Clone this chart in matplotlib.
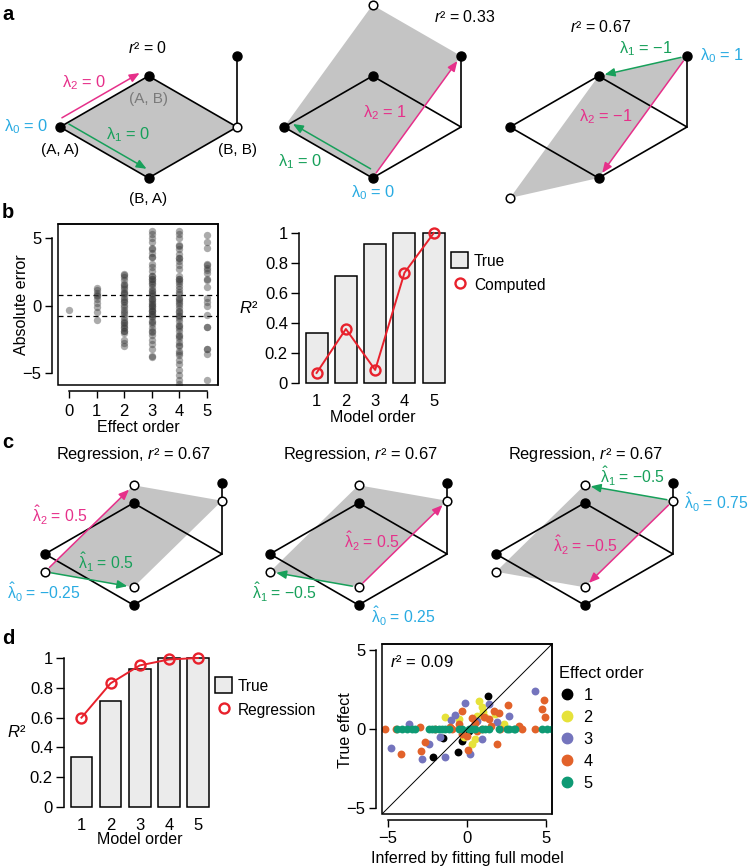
import matplotlib
matplotlib.use('Agg')
import matplotlib.pyplot as plt
from matplotlib.patches import Polygon, FancyArrowPatch, Patch, Rectangle
from matplotlib.lines import Line2D
import numpy as np

plt.rcParams['font.family'] = ['Liberation Sans', 'DejaVu Sans']
plt.rcParams['mathtext.fontset'] = 'custom'
plt.rcParams['mathtext.rm'] = 'Liberation Sans'
plt.rcParams['mathtext.it'] = 'Liberation Sans:italic'
plt.rcParams['mathtext.bf'] = 'Liberation Sans:bold'
plt.rcParams['font.size'] = 11.5
plt.rcParams['axes.linewidth'] = 1.1

# ---------------- data ----------------
# panels a / c: two-locus genotype lattice
geno_labels = ['(A, A)', '(A, B)', '(B, B)', '(B, A)']
geno_grid = [(0, 0), (0, 1), (1, 1), (1, 0)]
observed = [0, 0, 1, 0]
a_predicted = [[0, 0, 0, 0], [0, 1, 1, 0], [-1, 0, 1, 0]]
a_r2 = ['0', '0.33', '0.67']
a_lambda0 = ['0', '0', '1']
a_lambda1 = ['0', '0', '\u22121']
a_lambda2 = ['0', '1', '\u22121']
c_predicted = [[-0.25, 0.25, 0.75, 0.25], [-0.25, 0.25, 0.75, 0.25], [-0.25, 0.25, 0.75, 0.25]]
c_r2 = ['0.67', '0.67', '0.67']
c_lambda0 = ['\u22120.25', '0.25', '0.75']
c_lambda1 = ['0.5', '\u22120.5', '\u22120.5']
c_lambda2 = ['0.5', '0.5', '\u22120.5']
ref_geno = [0, 3, 2]
lambda1_target = [3, 0, 1]
lambda2_target = [1, 2, 3]

# panel b left: absolute error by effect order
effect_orders = [0, 1, 2, 3, 4, 5]
err_order0 = [-0.35]
err_order1 = [1.32, 1.12, 0.9, 0.7, 0.45, 0.15, -0.12, -0.47, -1.04, 0.8]
err_order2 = [2.36, 2.11, 1.87, 1.62, 1.39, 1.19, 1.0, 0.82, 0.62, 0.45, 0.27, 0.07,
              -0.12, -0.37, -0.62, -0.87, -1.04, -1.22, -1.42, -1.62, -1.87, -2.04,
              -2.54, -2.79, -3.03, 1.5, 0.9, 0.3, -0.5, -1.3, -1.7, -1.9, 2.3]
err_order3 = [5.55, 5.3, 5.0, 4.75, 4.25, 3.93, 3.6, 3.1, 2.86, 2.56, 2.19, 1.94, 1.69,
              1.37, 1.12, 0.87, 0.7, 0.52, 0.32, 0.12, -0.05, -0.22, -0.42, -0.62,
              -0.87, -1.12, -1.37, -1.67, -1.92, -2.16, -2.54, -2.86, -3.21, -3.78,
              0.2, -0.3, -0.6, 0.5, 1.6, 2.0, 3.6, 4.2, -3.8, 0.9, -0.4, 1.8, -1.2,
              -2.0, 0.0, 2.2, 1.1, -0.8]
err_order4 = [5.55, 5.3, 5.0, 4.5, 4.18, 3.86, 3.56, 3.31, 3.01, 2.69, 2.19, 1.94,
              1.69, 1.44, 1.19, 0.82, 0.57, 0.32, 0.07, -0.17, -0.42, -0.67, -0.92,
              -1.17, -1.42, -1.67, -1.92, -2.16, -2.41, -2.71, -3.03, -3.36, -3.66,
              -4.03, -4.35, -4.78, -5.15, -5.52, -5.85, 4.4, 3.5, 1.8, 1.0, 0.5,
              -0.8, -0.5, -1.5, -2.3, -2.9, -3.5, 2.0, 0.2]
err_order5 = [5.25, 4.75, 4.3, 3.06, 2.76, 2.44, 1.94, 1.37, 0.57, 0.27, -0.05,
              -0.72, -1.62, -3.21, -3.61, -5.52, 3.0, 2.6, 1.9, -1.6, -3.2]

# panels b right / d left: R^2 by model order
model_order = [1, 2, 3, 4, 5]
r2_true = [0.333, 0.714, 0.929, 1.0, 1.0]
r2_computed = [0.067, 0.36, 0.087, 0.735, 1.0]
r2_regression = [0.60, 0.83, 0.95, 0.99, 1.0]

# panel d right: inferred vs true effect
ord1_x = [1.33, -1.54, -0.32, -0.57, -2.17, 0.1]
ord1_y = [2.07, -0.57, -0.74, -1.43, -1.75, -0.15]
ord2_x = [0.74, 0.95, -1.37, 0.63, 2.32, 0.32, 0.53, -0.21, 1.79, 1.16, -0.49, 1.0]
ord2_y = [1.79, 1.37, 0.78, 0.84, 0.32, -0.95, -0.63, -0.53, 0.95, 0.74, 0.63, 1.05]
ord3_x = [4.32, 1.37, -0.15, -0.78, -1.0, -3.65, -4.79, -2.43, -2.85, -1.37, 0.17,
          2.64, 1.9, 0.95, 0.63, -1.69, 0.4]
ord3_y = [2.43, 1.58, 1.62, 0.91, 0.57, 0.32, -1.2, -0.95, -1.9, -1.79, -1.58, 0.84,
          0.42, -0.63, 0.53, -0.53, 0.1]
ord4_x = [4.85, 4.75, 4.96, 2.6, 2.05, 1.69, 1.05, 0.32, -0.32, -0.53, -4.16, -2.64,
          -2.89, -0.32, 0.06, 1.9, 0.63, 1.37, 0.0, 3.27, -5.2, -4.5, -3.0, -2.0,
          -0.95, 0.95, 2.1, 3.5, 4.3, -1.1, 1.5, 0.5]
ord4_y = [1.84, 1.27, 0.78, 1.54, 0.99, 1.16, 0.78, 0.7, 1.12, 0.32, -1.58, -0.84,
          -1.37, -0.32, -1.33, -0.95, -0.1, 0.63, -0.42, 0.21, 0.0, 0.0, 0.1, 0.0,
          0.0, 0.0, 0.0, 0.0, 0.0, 0.1, 0.2, 0.4]
ord5_x = [-4.43, -4.11, -3.8, -3.48, -3.27, -2.43, -2.22, -2.0, -1.79, -1.58, -1.37,
          -1.16, -0.53, -0.32, 0.11, 0.32, 0.53, 0.95, 1.16, 1.37, 2.0, 2.53, 2.64,
          2.95, 3.06, 4.75, 5.06, 5.38]
ord5_y = [0.0, 0.0, 0.0, 0.0, 0.0, 0.0, 0.0, 0.0, 0.0, 0.0, 0.0, 0.0, 0.0, 0.0,
          0.0, 0.0, 0.0, 0.0, 0.0, 0.0, 0.0, 0.0, 0.0, 0.0, 0.0, 0.0, 0.0, 0.0]
effect_labels = ['1', '2', '3', '4', '5']

# ---------------- style ----------------
PINK = '#e6308a'
GREEN = '#17a05a'
CYAN = '#29abe2'
PLANE = '#c4c4c4'
BARC = '#ebebeb'
RED = '#e8212c'
ORDER_COLORS = ['#000000', '#e6e23a', '#7474bd', '#e2622a', '#0e9a74']
R2 = '$r$\u00b2'

W, H = 749, 867
fig = plt.figure(figsize=(W / 100, H / 100), dpi=100)


def px_box(l, t, r, b):
    return [l / W, 1 - b / H, (r - l) / W, (b - t) / H]


ov = fig.add_axes([0, 0, 1, 1])
ov.set_xlim(0, W)
ov.set_ylim(H, 0)
ov.axis('off')

SX, SY, SZ = 88.5, 51.0, 71.0


def proj(origin, g, z):
    return origin[0] + SX * (g[0] + g[1]), origin[1] - SY * (g[1] - g[0]) - SZ * z


def arrow(p0, p1, color, offset):
    dx, dy = p1[0] - p0[0], p1[1] - p0[1]
    n = np.hypot(dx, dy)
    ox_, oy_ = dy / n * offset, -dx / n * offset
    ov.add_patch(FancyArrowPatch((p0[0] + ox_, p0[1] + oy_), (p1[0] + ox_, p1[1] + oy_),
                                 arrowstyle='-|>,head_length=0.6,head_width=0.25',
                                 mutation_scale=10, color=color, lw=1.1,
                                 shrinkA=4.5, shrinkB=4.5, zorder=3))


def draw_diagram(origin, pred, ref, t1, t2, off1, off2):
    floor = [proj(origin, g, 0) for g in geno_grid]
    obs = [proj(origin, g, z) for g, z in zip(geno_grid, observed)]
    prd = [proj(origin, g, z) for g, z in zip(geno_grid, pred)]
    ov.add_patch(Polygon(prd, closed=True, fc=PLANE, ec='none', zorder=1))
    loop = floor + floor[:1]
    ov.plot([p[0] for p in loop], [p[1] for p in loop], color='k', lw=1.2, zorder=2)
    for f, o, z in zip(floor, obs, observed):
        if z != 0:
            ov.plot([f[0], o[0]], [f[1], o[1]], color='k', lw=1.2, zorder=2)
    arrow(prd[ref], prd[t1], GREEN, off1)
    arrow(prd[ref], prd[t2], PINK, off2)
    ov.plot([p[0] for p in obs], [p[1] for p in obs], 'o', color='k', ms=6.5, zorder=5, clip_on=False)
    for p, zo, zp in zip(prd, observed, pred):
        if zp != zo:
            ov.plot(p[0], p[1], 'o', mfc='white', mec='k', mew=1.1, ms=6.2, zorder=6, clip_on=False)
    return floor


# ---- panel a ----
a_origins = [(60, 127), (284, 127), (510, 127)]
a_offsets = [(7, 7), (-7, 0), (0, 0)]
a_title_pos = [(148, 48), (465, 17), (601, 27)]
a_l0_pos = [(48, 127, 'right'), (373, 193, 'center'), (700, 56, 'left')]
a_l1_pos = [(128, 135), (300, 162), (646, 49)]
a_l2_pos = [(84, 83), (385, 113), (606, 117)]
LFS = 11.8
for i in range(3):
    floor = draw_diagram(a_origins[i], a_predicted[i], ref_geno[i], lambda1_target[i],
                         lambda2_target[i], *a_offsets[i])
    ov.text(*a_title_pos[i], R2 + ' = ' + a_r2[i], ha='center', va='center')
    x, y, ha = a_l0_pos[i]
    ov.text(x, y, r'$\mathrm{\lambda}_0$ = ' + a_lambda0[i], color=CYAN, ha=ha, va='center', fontsize=LFS)
    ov.text(*a_l1_pos[i], r'$\mathrm{\lambda}_1$ = ' + a_lambda1[i], color=GREEN, ha='center', va='center', fontsize=LFS)
    ov.text(*a_l2_pos[i], r'$\mathrm{\lambda}_2$ = ' + a_lambda2[i], color=PINK, ha='center', va='center', fontsize=LFS)
    if i == 0:
        lab_off = [23, 23, 23, 21]
        for k, (p, lab) in enumerate(zip(floor, geno_labels)):
            ov.text(p[0], p[1] + lab_off[k], lab, ha='center', va='center', fontsize=11,
                    color='#7a7a7a' if k == 1 else 'k')

# ---- panel c ----
c_origins = [(45, 554), (270, 554), (496, 554)]
c_title_pos = [(133, 455), (360, 455), (585, 455)]
c_l0_pos = [(44, 592, 'center'), (403, 616, 'center'), (684, 502, 'left')]
c_l1_pos = [(106, 562), (285, 592), (633, 476)]
c_l2_pos = [(60, 515), (372, 541), (586, 545)]
for i in range(3):
    draw_diagram(c_origins[i], c_predicted[i], ref_geno[i], lambda1_target[i],
                 lambda2_target[i], 0, 0)
    ov.text(*c_title_pos[i], 'Regression, ' + R2 + ' = ' + c_r2[i], ha='center', va='center',
            fontsize=11.8)
    x, y, ha = c_l0_pos[i]
    ov.text(x, y, r'$\hat{\mathrm{\lambda}}_0$ = ' + c_lambda0[i], color=CYAN, ha=ha, va='center', fontsize=11.3)
    ov.text(*c_l1_pos[i], r'$\hat{\mathrm{\lambda}}_1$ = ' + c_lambda1[i], color=GREEN, ha='center', va='center', fontsize=11.3)
    ov.text(*c_l2_pos[i], r'$\hat{\mathrm{\lambda}}_2$ = ' + c_lambda2[i], color=PINK, ha='center', va='center', fontsize=11.3)

# panel letters
for lab, y in zip(['a', 'b', 'c', 'd'], [15, 213, 443, 638]):
    ov.text(2, y, lab, fontsize=14.5, fontweight='bold', ha='left', va='center')


def r_axes(ax, xb, yb):
    for s in ['left', 'bottom']:
        ax.spines[s].set_position(('outward', 4))
    ax.spines['left'].set_bounds(*yb)
    ax.spines['bottom'].set_bounds(*xb)
    ax.add_patch(Rectangle((0, 0), 1, 1, transform=ax.transAxes, fill=False, lw=1.1,
                           clip_on=False, zorder=10))
    ax.tick_params(direction='out', length=5, width=1.0, pad=3, labelsize=12)
    ax.set_facecolor('none')


# ---- panel b left ----
axb1 = fig.add_axes(px_box(58, 224, 218, 385))
errs = [err_order0, err_order1, err_order2, err_order3, err_order4, err_order5]
for o, vals in zip(effect_orders, errs):
    axb1.scatter([o] * len(vals), vals, s=28, color='#383838', alpha=0.42, lw=0, zorder=3)
axb1.axhline(0.8, color='k', lw=0.9, ls=(0, (4, 3)), zorder=2)
axb1.axhline(-0.8, color='k', lw=0.9, ls=(0, (4, 3)), zorder=2)
axb1.set_xlim(-0.4, 5.4)
axb1.set_ylim(-5.9, 6.05)
axb1.set_xticks(effect_orders)
axb1.set_yticks([-5, 0, 5])
r_axes(axb1, (0, 5), (-5, 5))
axb1.tick_params(axis='x', pad=5)
ov.text(22, 305, 'Absolute error', rotation=90, ha='center', va='center')
ov.text(138, 427, 'Effect order', ha='center', va='center')


def bar_axes(box, line_vals, line_label, r2xy, xlxy):
    ax = fig.add_axes(px_box(*box))
    ax.set_facecolor('none')
    ax.bar(model_order, r2_true, width=0.75, color=BARC, edgecolor='k', lw=1.1, clip_on=False, zorder=2)
    ax.plot(model_order, line_vals, color=RED, lw=1.4, marker='o', mfc='none', mec=RED,
            ms=7.2, mew=1.7, clip_on=False, zorder=4)
    ax.set_xlim(0.4, 5.4)
    ax.set_ylim(0, 1)
    for s in ['top', 'right', 'bottom']:
        ax.spines[s].set_visible(False)
    ax.spines['left'].set_bounds(0, 1)
    ax.set_yticks([0, 0.2, 0.4, 0.6, 0.8, 1.0])
    ax.set_yticklabels(['0', '0.2', '0.4', '0.6', '0.8', '1'])
    ax.set_xticks(model_order)
    ax.tick_params(axis='y', direction='out', length=6, width=1.0, pad=2, labelsize=12)
    ax.tick_params(axis='x', length=0, pad=8, labelsize=12)
    handles = [Patch(fc=BARC, ec='k', lw=1.1),
               Line2D([], [], ls='none', marker='o', mfc='none', mec=RED, mew=1.7, ms=7.2)]
    ax.legend(handles, ['True', line_label], loc='upper left', bbox_to_anchor=(1.04, 0.87),
              frameon=False, handlelength=1.1, handleheight=1.2, handletextpad=0.35,
              labelspacing=0.5, borderpad=0, borderaxespad=0, fontsize=11.2)
    ov.text(*r2xy, '$R$\u00b2', ha='center', va='center', fontsize=12)
    ov.text(*xlxy, 'Model order', ha='center', va='center')
    return ax


axb2 = bar_axes((299, 233, 445.5, 383), r2_computed, 'Computed', (249, 308), (373, 417))
axd1 = bar_axes((64, 658, 209.5, 807), r2_regression, 'Regression', (17, 732), (140, 840))

# ---- panel d right ----
axd2 = fig.add_axes(px_box(382, 644, 552, 814))
xs_all = [ord1_x, ord2_x, ord3_x, ord4_x, ord5_x]
ys_all = [ord1_y, ord2_y, ord3_y, ord4_y, ord5_y]
for xs, ys, c in zip(xs_all, ys_all, ORDER_COLORS):
    axd2.scatter(xs, ys, s=32, color=c, lw=0, zorder=3)
axd2.axline((0, 0), (1, 1), color='k', lw=0.7, zorder=4)
axd2.set_xlim(-5.38, 5.38)
axd2.set_ylim(-5.38, 5.38)
axd2.set_xticks([-5, 0, 5])
axd2.set_yticks([-5, 0, 5])
r_axes(axd2, (-5, 5), (-5, 5))
axd2.text(0.045, 0.895, R2 + ' = 0.09', transform=axd2.transAxes, ha='left', va='center',
          fontsize=12)
hs = [Line2D([], [], ls='none', marker='o', color=c, ms=7.5) for c in ORDER_COLORS]
axd2.legend(hs, effect_labels, title='Effect order', loc='upper left',
            bbox_to_anchor=(1.04, 0.87), frameon=False, alignment='left',
            handlelength=1.0, handletextpad=0.5, labelspacing=0.42, borderpad=0,
            borderaxespad=0, fontsize=11.8, title_fontsize=11.8)
ov.text(345, 730, 'True effect', rotation=90, ha='center', va='center')
ov.text(467, 858, 'Inferred by fitting full model', ha='center', va='center')

fig.savefig('out.png', dpi=100)
